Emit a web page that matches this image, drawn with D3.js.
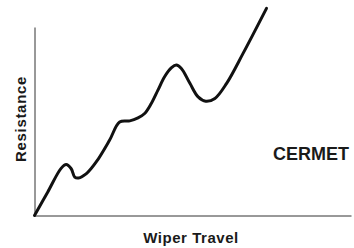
<html>
<head>
<script src="https://cdn.jsdelivr.net/npm/d3@7"></script>
<style>
	body {
		margin: 0;
		background-color: #fff;
		font-family: "Liberation Sans", Arial, sans-serif;
	}
	svg text {
		font-weight: bold;
		fill: #1a1a1a;
	}
</style>
</head>
<body>
<div id="chart"></div>
<script>
	// wiper travel (0-100) vs resistance (0-100)
	var travel = [0, 4.2, 8.4, 10.0, 11.6, 12.7, 13.9, 16.4, 19.5, 23.7, 26.9, 30.1, 32.7, 34.8, 36.9, 39.0, 41.1, 43.3, 44.8, 46.4, 49.1, 51.7, 54.1, 57.0, 60.7, 65.9, 73.3];
	var resistance = [0, 12.5, 25.0, 27.0, 24.8, 20.4, 19.9, 22.2, 28.4, 39.9, 49.6, 50.2, 51.8, 54.1, 59.4, 66.5, 73.6, 78.4, 79.8, 78.0, 70.1, 62.9, 60.6, 62.1, 70.1, 86.0, 109.9];
	var xTitle = "Wiper Travel";
	var yTitle = "Resistance";
	var label = "CERMET";

	var width = 354;
	var height = 248;
	var margin = {top: 27, left: 34.5, bottom: 32.5, right: 3};

	var svg = d3.select("#chart").append("svg")
		.attr("width", width)
		.attr("height", height)
		.attr("display", "block");

	var x = d3.scaleLinear().domain([0, 100]).range([margin.left, width - margin.right]);
	var y = d3.scaleLinear().domain([0, 100]).range([height - margin.bottom, margin.top]);

	svg.append("g")
		.attr("transform", "translate(0," + y(0) + ")")
		.call(d3.axisBottom(x).tickValues([]).tickSizeOuter(0))
		.select(".domain").attr("stroke", "#333");

	svg.append("g")
		.attr("transform", "translate(" + x(0) + ",0)")
		.call(d3.axisLeft(y).tickValues([]).tickSizeOuter(0))
		.select(".domain").attr("stroke", "#333");

	var line = d3.line()
		.x(function(d, i){ return x(travel[i]); })
		.y(function(d, i){ return y(resistance[i]); })
		.curve(d3.curveCatmullRom.alpha(0.5));

	svg.append("path")
		.datum(travel)
		.attr("d", line)
		.attr("fill", "none")
		.attr("stroke", "#111")
		.attr("stroke-width", 3)
		.attr("stroke-linecap", "round")
		.attr("stroke-linejoin", "round");

	svg.append("text")
		.text(xTitle)
		.attr("x", 191)
		.attr("y", 243)
		.attr("text-anchor", "middle")
		.style("font-size", "15px")
		.style("letter-spacing", "0.55px");

	svg.append("text")
		.text(yTitle)
		.attr("transform", "translate(25.5,119) rotate(-90)")
		.attr("text-anchor", "middle")
		.style("font-size", "15px")
		.style("letter-spacing", "0.7px");

	svg.append("text")
		.text(label)
		.attr("x", 349)
		.attr("y", 160)
		.attr("text-anchor", "end")
		.style("font-size", "18px");
</script>
</body>
</html>
